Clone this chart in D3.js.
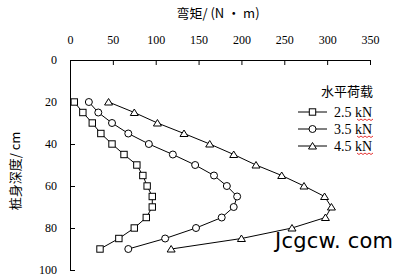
<!DOCTYPE html>
<html>
<head>
<meta charset="utf-8">
<script src="https://cdn.jsdelivr.net/npm/d3@7"></script>
<style>
  body { margin: 0; background: #fff; }
  .tick text { font-family: "Liberation Serif", serif; font-size: 12px; fill: #000; }
  .domain, .tick line { stroke: #000; stroke-width: 1; }
</style>
</head>
<body>
<div id="chart"></div>
<script>
// depth of pile (cm) for every reading
var depths = [20, 25, 30, 35, 40, 45, 50, 55, 60, 65, 70, 75, 80, 85, 90];

// bending moment (N·m) per load case
var moment25 = [5, 15, 26, 36, 49, 63, 78, 85, 90, 96, 96, 89, 75, 57, 35];
var moment35 = [22, 33, 49, 68, 92, 120, 146, 168, 183, 195, 191, 177, 147, 111, 68];
var moment45 = [45, 75, 102, 133, 163, 191, 217, 247, 273, 297, 305, 298, 259, 200, 118];

var seriesNames = ["2.5 kN", "3.5 kN", "4.5 kN"];
var seriesShapes = ["square", "circle", "triangle"];
var xTicks = [0, 50, 100, 150, 200, 250, 300, 350];
var yTicks = [0, 20, 40, 60, 80, 100];

var width = 402, height = 280;
var plotLeft = 70, plotRight = 370, plotTop = 60, plotBottom = 270;

var svg = d3.select("#chart").append("svg")
  .attr("width", width)
  .attr("height", height);

var x = d3.scaleLinear().domain([0, 350]).range([plotLeft, plotRight]);
var y = d3.scaleLinear().domain([0, 100]).range([plotTop, plotBottom]);

// top axis, ticks point down into the plot
svg.append("g")
  .attr("transform", "translate(0," + plotTop + ")")
  .call(d3.axisTop(x).tickValues(xTicks).tickSizeInner(-5).tickSizeOuter(0).tickPadding(16));

// left axis, ticks point right
svg.append("g")
  .attr("transform", "translate(" + plotLeft + ",0)")
  .call(d3.axisLeft(y).tickValues(yTicks).tickSizeInner(-5).tickSizeOuter(0).tickPadding(13));

// axis titles
svg.append("text")
  .attr("x", 218).attr("y", 18)
  .attr("text-anchor", "middle")
  .style("font-family", "'Noto Sans CJK SC', sans-serif")
  .style("font-size", "13px")
  .text("弯矩/ (N · m)");

svg.append("text")
  .attr("transform", "translate(20,171) rotate(-90)")
  .attr("text-anchor", "middle")
  .style("font-family", "'Noto Sans CJK SC', sans-serif")
  .style("font-size", "13px")
  .text("桩身深度/ cm");

var allSeries = [moment25, moment35, moment45];

var line = d3.line()
  .x(function(d) { return x(d[0]); })
  .y(function(d) { return y(d[1]); });

function drawMarker(g, shape, cx, cy) {
  if (shape == "square") {
    g.append("rect").attr("x", cx - 3.2).attr("y", cy - 3.2).attr("width", 6.4).attr("height", 6.4)
      .attr("fill", "#fff").attr("stroke", "#000");
  } else if (shape == "circle") {
    g.append("circle").attr("cx", cx).attr("cy", cy).attr("r", 3.5)
      .attr("fill", "#fff").attr("stroke", "#000");
  } else {
    g.append("path")
      .attr("d", "M" + cx + "," + (cy - 3.5) + "L" + (cx + 4) + "," + (cy + 3) + "L" + (cx - 4) + "," + (cy + 3) + "Z")
      .attr("fill", "#fff").attr("stroke", "#000");
  }
}

allSeries.forEach(function(vals, i) {
  var pts = vals.map(function(v, k) { return [v, depths[k]]; });
  svg.append("path")
    .datum(pts)
    .attr("d", line)
    .attr("fill", "none")
    .attr("stroke", "#000")
    .attr("stroke-width", 1);
  var g = svg.append("g");
  pts.forEach(function(p) {
    drawMarker(g, seriesShapes[i], x(p[0]), y(p[1]));
  });
});

// legend
svg.append("text")
  .attr("x", 373).attr("y", 96)
  .attr("text-anchor", "end")
  .style("font-family", "'Noto Sans CJK SC', sans-serif")
  .style("font-size", "13px")
  .text("水平荷载");

seriesNames.forEach(function(name, i) {
  var ly = 112 + i * 17;
  svg.append("line")
    .attr("x1", 298).attr("x2", 327).attr("y1", ly).attr("y2", ly)
    .attr("stroke", "#000");
  drawMarker(svg, seriesShapes[i], 312.5, ly);
  svg.append("text")
    .attr("x", 334).attr("y", ly + 4.5)
    .style("font-family", "'Liberation Serif', serif")
    .style("font-size", "14px")
    .text(name);
  // spell-check squiggle under "kN"
  var sq = "M357," + (ly + 7);
  for (var s = 0; s < 8; s++) {
    sq += "L" + (359 + s * 2) + "," + (ly + 7 + (s % 2 == 0 ? 1.5 : 0));
  }
  svg.append("path").attr("d", sq).attr("fill", "none").attr("stroke", "#d00").attr("stroke-width", 0.8);
});

// watermark
svg.append("text")
  .attr("x", 275).attr("y", 248)
  .attr("textLength", 118)
  .style("font-family", "'DejaVu Sans', sans-serif")
  .style("font-size", "21px")
  .text("Jcgcw. com");
</script>
</body>
</html>
